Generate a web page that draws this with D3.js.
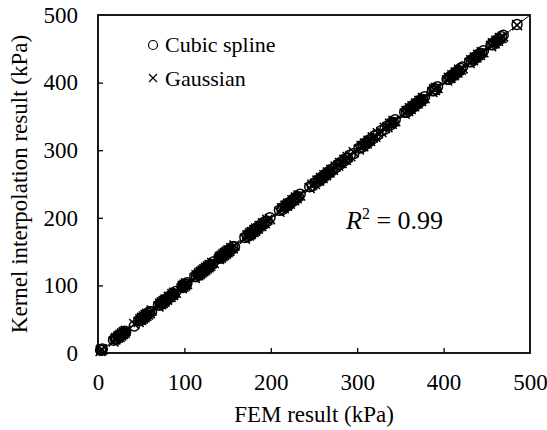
<!DOCTYPE html>
<html>
<head>
<meta charset="utf-8">
<script src="https://cdn.jsdelivr.net/npm/d3@7"></script>
<style>
  body { margin: 0; background: #fff; }
  svg text { font-family: "Liberation Serif", "Times New Roman", serif !important; fill: #000; }
</style>
</head>
<body>
<div id="chart"></div>
<script>
// ---- DATA ----------------------------------------------------------
// FEM result and the two kernel interpolation results, one row per cluster
var femValues = [3, 4, 5,
  18, 20, 21, 23, 24, 25, 26, 27, 28, 29, 30, 31, 32,
  42, 47, 49, 50, 51, 52, 53, 54, 55, 56, 57, 58, 60, 62,
  70, 72, 73, 74, 75, 76, 77, 78, 80, 82, 84, 86, 87, 88, 90,
  97, 98, 99, 100, 101, 102, 103,
  112, 114, 116, 117, 118, 119, 120, 121, 122, 123, 124, 125, 126, 127, 128, 129, 130, 132, 134,
  140, 141, 142, 143, 144, 145, 146, 147, 148, 149, 150, 151, 152, 154, 156, 158,
  170, 173, 175, 176, 177, 178, 180, 181, 182, 183, 185, 187, 189, 191, 193, 196, 199,
  210, 213, 215, 217, 219, 220, 222, 225, 227, 229, 230, 232, 234,
  245, 248, 251, 254, 256, 258, 260, 262, 264, 266, 268, 270, 272, 275, 278, 280, 282, 285, 287, 289, 292, 296,
  302, 305, 307, 309, 311, 313, 315, 318, 321, 324, 328, 332, 335, 338, 340, 342, 344,
  355, 357, 359, 361, 362, 364, 366, 368, 370, 372, 374, 376, 378,
  387, 389, 390, 391, 393,
  404, 406, 408, 410, 412, 414, 416, 418, 420, 422,
  430, 432, 434, 436, 438, 440, 442, 444, 446,
  455, 457, 459, 461, 463, 465, 467, 469,
  485];
var cubicValues = [4, 4, 6,
  19, 21, 20, 24, 23, 26, 25, 28, 27, 30, 29, 32, 31,
  40, 48, 48, 51, 50, 53, 52, 55, 54, 57, 56, 59, 61, 61,
  71, 71, 74, 73, 76, 75, 78, 77, 81, 81, 85, 85, 88, 87, 91,
  98, 97, 100, 99, 102, 101, 104,
  113, 113, 117, 116, 119, 118, 121, 120, 123, 122, 125, 124, 127, 126, 129, 128, 131, 131, 135,
  141, 140, 143, 142, 145, 144, 147, 146, 149, 148, 151, 150, 153, 153, 157, 157,
  171, 172, 176, 175, 178, 177, 181, 180, 183, 182, 186, 186, 190, 190, 194, 195, 200,
  211, 212, 216, 216, 220, 219, 223, 224, 228, 228, 231, 231, 235,
  246, 247, 252, 253, 257, 257, 261, 261, 265, 265, 269, 269, 273, 274, 279, 279, 283, 284, 288, 288, 293, 295,
  303, 304, 308, 308, 312, 312, 316, 317, 322, 323, 329, 331, 336, 337, 341, 341, 345,
  356, 356, 360, 360, 363, 363, 367, 367, 371, 371, 375, 375, 379,
  388, 388, 391, 390, 394,
  405, 405, 409, 409, 413, 413, 417, 417, 421, 423,
  431, 431, 435, 435, 439, 439, 443, 443, 447,
  456, 456, 460, 460, 464, 464, 468, 470,
  486];
var gaussValues = [3, 5, 5,
  17, 20, 22, 23, 25, 24, 27, 26, 29, 28, 31, 30, 33,
  43, 46, 50, 49, 52, 51, 54, 53, 56, 55, 58, 57, 59, 63,
  69, 73, 72, 75, 74, 77, 76, 79, 79, 83, 83, 87, 86, 89, 89,
  96, 99, 98, 101, 100, 103, 102,
  111, 115, 115, 118, 117, 120, 119, 122, 121, 124, 123, 126, 125, 128, 127, 130, 129, 133, 133,
  139, 142, 141, 144, 143, 146, 145, 148, 147, 150, 149, 152, 151, 155, 155, 159,
  169, 174, 174, 177, 176, 179, 179, 182, 181, 184, 184, 188, 188, 192, 192, 197, 198,
  209, 214, 214, 218, 218, 221, 221, 226, 226, 230, 229, 233, 233,
  244, 249, 250, 255, 255, 259, 259, 263, 263, 267, 267, 271, 271, 276, 277, 281, 281, 286, 286, 290, 291, 297,
  301, 306, 306, 310, 310, 314, 314, 319, 320, 325, 327, 333, 334, 339, 339, 343, 343,
  354, 358, 358, 362, 361, 365, 365, 369, 369, 373, 373, 377, 377,
  386, 390, 389, 392, 392,
  403, 407, 407, 411, 411, 415, 415, 419, 419, 421,
  429, 433, 433, 437, 437, 441, 441, 445, 445,
  454, 458, 458, 462, 462, 466, 466, 468,
  485];
var tickValues = [0, 100, 200, 300, 400, 500];
var seriesNames = ["Cubic spline", "Gaussian"];
var r2Text = "0.99";

// ---- VARIABLES -----------------------------------------------------
var w = 547;
var h = 430;
var padL = 98, padR = 530, padT = 15, padB = 353;
var serif = "'Liberation Serif', 'Times New Roman', serif";

var xScale = d3.scaleLinear().domain([0, 500]).range([padL, padR]);
var yScale = d3.scaleLinear().domain([0, 500]).range([padB, padT]);

var svg = d3.select("#chart")
  .append("svg")
  .attr("width", w)
  .attr("height", h)
  .style("font-family", serif);

svg.append("rect").attr("width", w).attr("height", h).attr("fill", "#fff");

// ---- AXES ----------------------------------------------------------
var xAxis = d3.axisBottom(xScale).tickValues(tickValues).tickSizeInner(-5).tickSizeOuter(0).tickPadding(21);
var yAxis = d3.axisLeft(yScale).tickValues(tickValues).tickSizeInner(-5).tickSizeOuter(0).tickPadding(20);

var gx = svg.append("g")
  .attr("transform", "translate(0," + padB + ")")
  .call(xAxis);
var gy = svg.append("g")
  .attr("transform", "translate(" + padL + ",0)")
  .call(yAxis);

[gx, gy].forEach(function(g) {
  g.attr("font-family", null);
  g.select(".domain").remove();
  g.selectAll(".tick line").attr("stroke", "#000").attr("stroke-width", 1.3);
  g.selectAll(".tick text")
    .style("font-family", serif)
    .attr("font-size", "23px")
    .attr("fill", "#000");
});
// end ticks sit on the frame
gx.selectAll(".tick line").filter(function(d) { return d === 0 || d === 500; }).remove();
gy.selectAll(".tick line").filter(function(d) { return d === 0 || d === 500; }).remove();

// frame
svg.append("rect")
  .attr("x", padL).attr("y", padT)
  .attr("width", padR - padL).attr("height", padB - padT)
  .attr("fill", "none").attr("stroke", "#000").attr("stroke-width", 1.8);

// 1:1 line
svg.append("line")
  .attr("x1", xScale(0)).attr("y1", yScale(0))
  .attr("x2", xScale(500)).attr("y2", yScale(500))
  .attr("stroke", "#000").attr("stroke-width", 1);

// ---- POINTS --------------------------------------------------------
var cubicPts = femValues.map(function(d, i) { return [d, cubicValues[i]]; });
var gaussPts = femValues.map(function(d, i) { return [d, gaussValues[i]]; });

svg.selectAll(".cubic")
  .data(cubicPts)
  .enter()
  .append("circle")
  .attr("class", "cubic")
  .attr("cx", function(d) { return xScale(d[0]); })
  .attr("cy", function(d) { return yScale(d[1]); })
  .attr("r", 5)
  .attr("fill", "none")
  .attr("stroke", "#000")
  .attr("stroke-width", 1.5);

var s = 5;
svg.selectAll(".gauss")
  .data(gaussPts)
  .enter()
  .append("path")
  .attr("class", "gauss")
  .attr("d", function(d) {
    var x = xScale(d[0]), y = yScale(d[1]);
    return "M" + (x - s) + "," + (y - s) + "L" + (x + s) + "," + (y + s) +
      "M" + (x - s) + "," + (y + s) + "L" + (x + s) + "," + (y - s);
  })
  .attr("stroke", "#000")
  .attr("stroke-width", 1.5);

// ---- LEGEND --------------------------------------------------------
svg.append("circle").attr("cx", 153).attr("cy", 45).attr("r", 4.5)
  .attr("fill", "none").attr("stroke", "#000").attr("stroke-width", 1.2);
svg.append("path")
  .attr("d", "M149,74L157,82M149,82L157,74")
  .attr("stroke", "#000").attr("stroke-width", 1.2);
svg.append("text").attr("x", 165).attr("y", 52).attr("font-size", "22px").text(seriesNames[0]);
svg.append("text").attr("x", 165).attr("y", 86).attr("font-size", "22px").text(seriesNames[1]);

// ---- LABELS --------------------------------------------------------
svg.append("text")
  .attr("x", (padL + padR) / 2)
  .attr("y", 422)
  .attr("text-anchor", "middle")
  .attr("font-size", "23px")
  .text("FEM result (kPa)");

svg.append("text")
  .attr("transform", "translate(27," + ((padT + padB) / 2) + ") rotate(-90)")
  .attr("text-anchor", "middle")
  .attr("font-size", "23px")
  .text("Kernel interpolation result (kPa)");

var r2 = svg.append("text").attr("x", 346).attr("y", 229).attr("font-size", "26px");
r2.append("tspan").attr("font-style", "italic").text("R");
r2.append("tspan").attr("font-size", "16px").attr("dy", -10).text("2");
r2.append("tspan").attr("dy", 10).text(" = " + r2Text);
</script>
</body>
</html>
